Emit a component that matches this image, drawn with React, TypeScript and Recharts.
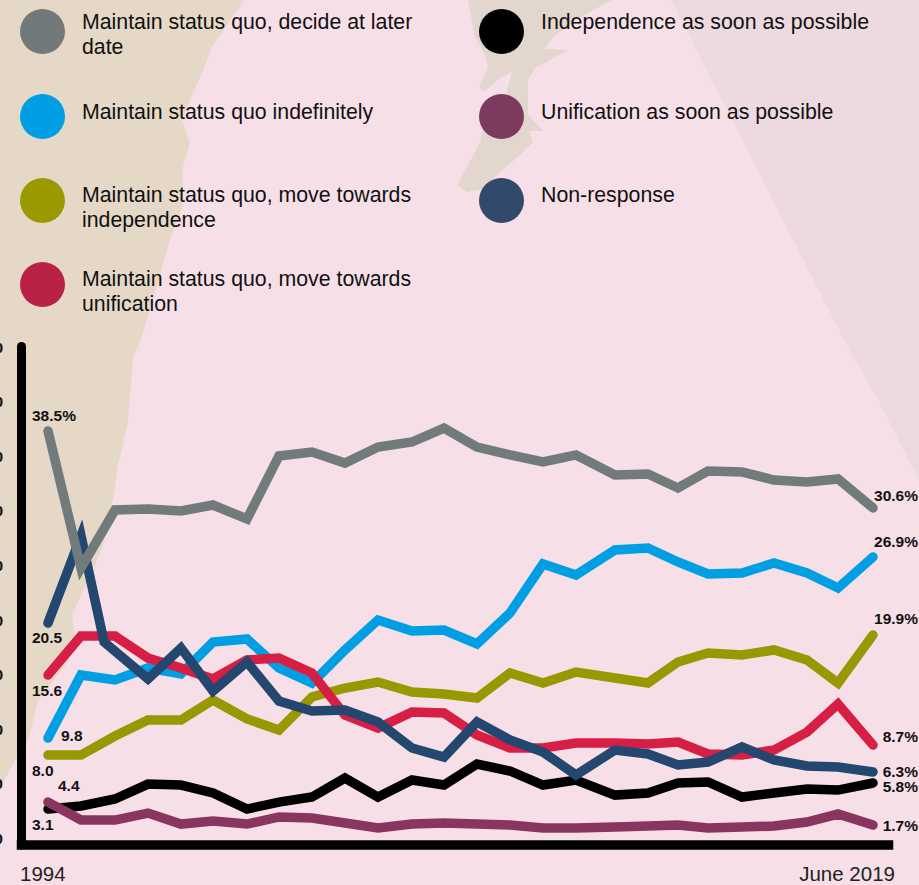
import { LineChart, Line, XAxis, YAxis } from "recharts";

// survey dates (the spacing is not quite even)
const dates = [1994, 1995, 1996.03, 1997.03, 1998.03, 1999, 2000.03, 2001, 2002, 2003, 2004, 2005.03, 2006, 2007, 2008, 2009, 2010, 2011.18, 2012.18, 2013.09, 2014, 2015.03, 2016, 2017, 2017.94, 2019];
const nonResponseDates = [1994, 1995, 1995.7, 1997.03, 1998.03, 1999, 2000.03, 2001, 2002, 2003, 2004, 2005.03, 2006, 2007, 2008, 2009, 2010, 2011.18, 2012.18, 2013.09, 2014, 2015.03, 2016, 2017, 2017.94, 2019];

const decideLater = [37.34, 24.77, 30.09, 30.18, 30.0, 30.55, 29.27, 35.05, 35.41, 34.4, 35.87, 36.33, 37.61, 35.87, 35.14, 34.5, 35.14, 33.3, 33.39, 32.11, 33.67, 33.58, 32.84, 32.66, 32.94, 30.28];
const indefinitely = [9.17, 14.95, 14.5, 15.6, 15.05, 17.98, 18.26, 15.6, 14.22, 17.25, 20.0, 18.99, 19.08, 17.8, 20.64, 25.14, 24.13, 26.42, 26.61, 25.32, 24.22, 24.31, 25.23, 24.31, 22.94, 25.78];
const towardsIndependence = [7.61, 7.61, 9.36, 10.83, 10.83, 12.66, 10.92, 9.91, 12.94, 13.76, 14.31, 13.39, 13.21, 12.84, 15.14, 14.22, 15.23, 14.68, 14.22, 16.15, 16.97, 16.79, 17.25, 16.33, 14.22, 18.62];
const towardsUnification = [14.95, 18.53, 18.53, 16.51, 15.6, 14.59, 16.33, 16.51, 15.14, 11.28, 10.09, 11.56, 11.47, 9.45, 8.26, 8.26, 8.72, 8.72, 8.62, 8.81, 7.71, 7.61, 8.07, 9.72, 12.29, 8.53];
const independenceAsap = [2.66, 2.94, 3.58, 4.95, 4.86, 4.13, 2.66, 3.3, 3.76, 5.5, 3.76, 5.32, 4.86, 6.79, 6.15, 4.86, 5.32, 3.94, 4.13, 5.05, 5.14, 3.76, 4.13, 4.5, 4.4, 5.05];
const unificationAsap = [3.3, 1.65, 1.65, 2.29, 1.28, 1.56, 1.28, 1.93, 1.83, 1.38, 0.92, 1.28, 1.38, 1.28, 1.19, 0.92, 0.92, 1.01, 1.1, 1.19, 0.92, 1.01, 1.1, 1.47, 2.2, 1.19];
const nonResponse = [19.72, 27.71, 17.98, 14.59, 17.43, 13.49, 16.15, 12.57, 11.65, 11.74, 10.64, 8.26, 7.43, 10.64, 8.99, 7.89, 5.78, 8.07, 7.71, 6.7, 6.97, 8.35, 7.16, 6.61, 6.51, 6.06];

const yTicks = [0, 5, 10, 15, 20, 25, 30, 35, 40, 45];
const xTicks = [1994, 2019];
const xTickLabels = ["1994", "June 2019"];

const legendLeft = [
  { name: "Maintain status quo, decide at later date", color: "#72797b" },
  { name: "Maintain status quo indefinitely", color: "#009ee2" },
  { name: "Maintain status quo, move towards independence", color: "#9a9a00" },
  { name: "Maintain status quo, move towards unification", color: "#b92145" },
];
const legendRight = [
  { name: "Independence as soon as possible", color: "#000000" },
  { name: "Unification as soon as possible", color: "#7d3a5f" },
  { name: "Non-response", color: "#33496b" },
];
const legendTops = [9, 94, 178, 262];
const legendTextTops = [10, 100, 183, 267];

const FONT = "'Liberation Sans', Arial, sans-serif";
const BOTTOM = "#f7dfe8";

const rows = dates.map((date, i) => ({
  date,
  decideLater: decideLater[i],
  indefinitely: indefinitely[i],
  towardsIndependence: towardsIndependence[i],
  towardsUnification: towardsUnification[i],
  independenceAsap: independenceAsap[i],
  unificationAsap: unificationAsap[i],
}));
const nonResponseRows = nonResponseDates.map((date, i) => ({ date, nonResponse: nonResponse[i] }));

// start and end labels, nudged off the line ends like in the original
const makeLabel = (start: string, end: string, sdx: number, sdy: number, edy: number) => (props: any) => {
  const { x, y, index } = props;
  if (index === 0) {
    return (
      <text x={x + sdx} y={y + sdy} fontSize={15.5} fontWeight="bold" fontFamily={FONT} fill="#111">
        {start}
      </text>
    );
  }
  if (index === dates.length - 1) {
    return (
      <text x={x + 45} y={y + edy} textAnchor="end" fontSize={15.5} fontWeight="bold" fontFamily={FONT} fill="#111">
        {end}
      </text>
    );
  }
  return <g />;
};

const XTick = (props: any) => {
  const { x, y, payload } = props;
  const first = payload.value === xTicks[0];
  return (
    <text
      x={first ? x - 28 : x + 22}
      y={y + 36}
      textAnchor={first ? "start" : "end"}
      fontSize={20.5}
      fontFamily={FONT}
      fill="#222"
    >
      {first ? xTickLabels[0] : xTickLabels[1]}
    </text>
  );
};

const lineProps = {
  type: "linear" as const,
  dot: false,
  strokeWidth: 9.5,
  strokeLinecap: "round" as const,
  strokeLinejoin: "miter" as const,
  isAnimationActive: false,
};

const Backdrop = () => (
  <svg width={919} height={885} style={{ position: "absolute", left: 0, top: 0 }}>
    <rect width={919} height={885} fill={BOTTOM} />
    <polygon points="671,0 919,0 919,480 878,400 844,340" fill="#edd9e0" />
    <polygon
      points="0,0 244,0 212,47 202,73 193,93 182,120 190,143 183,167 182,207 170,240 141,340 133,357 128,423 117,469 115,489 102,549 72,615 75,639 67,663 38,701 28,740 13,764 0,788"
      fill="#e5d8c6"
    />
    <polygon
      points="468,0 475,37 485,55 488,67 479,87 483,92 498,80 512,71 506,95 482,132 480,143 457,185 467,192 480,190 520,155 533,142 529,131 543,131 528,115 528,80 535,68 568,50 544,49 553,37 580,17 612,0"
      fill="#e2d6cf"
    />
  </svg>
);

const LegendColumn = ({ items, circleX, textX, width }: any) => (
  <>
    {items.map((item: any, i: number) => (
      <div key={item.name}>
        <div
          style={{
            position: "absolute",
            left: circleX,
            top: legendTops[i],
            width: 45,
            height: 45,
            borderRadius: "50%",
            background: item.color,
          }}
        />
        <div
          style={{
            position: "absolute",
            left: textX,
            top: legendTextTops[i],
            width,
            fontFamily: FONT,
            fontSize: 21.3,
            lineHeight: "25px",
            color: "#111",
          }}
        >
          {item.name}
        </div>
      </div>
    ))}
  </>
);

export default function App() {
  return (
    <div style={{ position: "absolute", left: 0, top: 0, width: 919, height: 885, overflow: "hidden" }}>
      <Backdrop />
      <LegendColumn items={legendLeft} circleX={20} textX={82} width={345} />
      <LegendColumn items={legendRight} circleX={479} textX={541} width={370} />
      <div style={{ position: "absolute", left: 0, top: 0 }}>
        <LineChart width={919} height={885} data={rows} margin={{ top: 346.5, right: 30.5, bottom: 0, left: 0 }}>
          <XAxis
            dataKey="date"
            type="number"
            domain={[1993.197, 2019.47]}
            ticks={xTicks}
            allowDataOverflow
            axisLine={{ stroke: "#000", strokeWidth: 9.5, strokeLinecap: "square" }}
            tickLine={false}
            tickSize={0}
            tickMargin={0}
            height={40}
            interval={0}
            tick={<XTick />}
          />
          <YAxis
            type="number"
            domain={[-0.64, 45.09]}
            ticks={yTicks}
            allowDataOverflow
            width={21.5}
            axisLine={{ stroke: "#000", strokeWidth: 9, strokeLinecap: "round" }}
            tickLine={false}
            tickSize={0}
            tickMargin={18.5}
            interval={0}
            tickFormatter={(v: number) => v.toFixed(1)}
            tick={{ fontSize: 15.5, fontWeight: "bold", fontFamily: FONT, fill: "#111" }}
          />
          <Line {...lineProps} dataKey="indefinitely" stroke="#009fe3" label={makeLabel("9.8", "26.9%", 13, 3, -10)} />
          <Line {...lineProps} dataKey="towardsIndependence" stroke="#989800" label={makeLabel("8.0", "19.9%", -16, 21, -11)} />
          <Line {...lineProps} dataKey="independenceAsap" stroke="#000000" label={makeLabel("4.4", "5.8%", 10, -18, 9)} />
          <Line {...lineProps} dataKey="unificationAsap" stroke="#8a3560" label={makeLabel("3.1", "1.7%", -16, 28, 6)} />
          <Line {...lineProps} dataKey="towardsUnification" stroke="#d71f45" label={makeLabel("15.6", "8.7%", -16, 21, -3)} />
          <Line {...lineProps} data={nonResponseRows} dataKey="nonResponse" stroke="#23476f" label={makeLabel("20.5", "6.3%", -16, 20, 5)} />
          <Line {...lineProps} dataKey="decideLater" stroke="#727b7c" label={makeLabel("38.5%", "30.6%", -16, -10, -7)} />
        </LineChart>
      </div>
    </div>
  );
}
